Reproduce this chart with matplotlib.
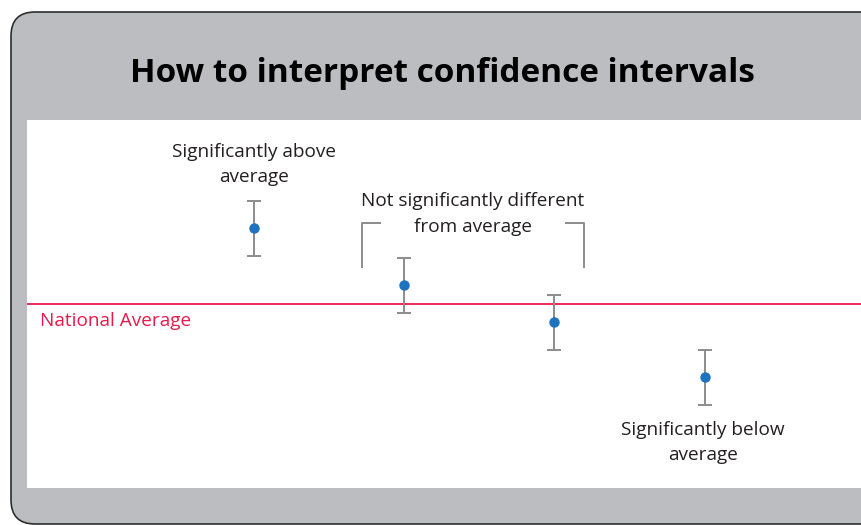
import matplotlib.pyplot as plt
from matplotlib.patches import FancyBboxPatch
from matplotlib.transforms import IdentityTransform

# data: estimates relative to the national average, with CI half width
positions = [1, 2, 3, 4]
estimates = [0.76, 0.19, -0.18, -0.73]
ci_half = [0.275, 0.275, 0.275, 0.275]
national_average = 0.0

title = 'How to interpret confidence intervals'
label_above = 'Significantly above\naverage'
label_middle = 'Not significantly different\nfrom average'
label_below = 'Significantly below\naverage'
label_avg = 'National Average'

plt.rcParams['font.family'] = ['Open Sans', 'DejaVu Sans']

W, H = 861, 525
fig = plt.figure(figsize=(W / 100, H / 100), dpi=100)
fig.patch.set_facecolor('white')

# grey rounded panel (pixel coords)
panel = FancyBboxPatch((11 + 24, 1 + 24), 900 - 48, 512 - 48,
                       boxstyle='round,pad=24', transform=IdentityTransform(),
                       facecolor='#bcbdc0', edgecolor='#2e2e2e', linewidth=1.2,
                       zorder=-1)
fig.patches.append(panel)

fig.text(442 / W, 1 - 74 / H, title, ha='center', va='center',
         fontsize=24, fontweight='bold', color='black')

ax = fig.add_axes([27 / W, (H - 488) / H, (W - 27) / W, 368 / H])
ax.set_zorder(2)
ax.set_facecolor('white')
ax.set_xlim(-0.51, 5.04)
ax.set_ylim(-1.84, 1.84)
for s in ax.spines.values():
    s.set_visible(False)
ax.set_xticks([])
ax.set_yticks([])

ax.axhline(national_average, color='#e8194b', linewidth=1.3, zorder=1)
ax.text(-0.424, -0.17, label_avg, color='#e8194b', fontsize=13.7,
        ha='left', va='center')

ax.errorbar(positions, estimates, yerr=ci_half, fmt='o', color='#1f72c0',
            markersize=6.5, ecolor='#8c8c8c', elinewidth=1.4, capsize=5,
            capthick=1.4, zorder=3)

# brackets around the "not significant" pair
ax.plot([1.72, 1.72, 1.84], [0.37, 0.81, 0.81], color='#8c8c8c', linewidth=1.4)
ax.plot([3.076, 3.196, 3.196], [0.81, 0.81, 0.37], color='#8c8c8c', linewidth=1.4)

ax.text(1.0, 1.395, label_above, ha='center', va='center', fontsize=13.7,
        linespacing=1.5, color='#231f20')
ax.text(2.457, 0.90, label_middle, ha='center', va='center', fontsize=13.7,
        linespacing=1.5, color='#231f20')
ax.text(3.987, -1.385, label_below, ha='center', va='center', fontsize=13.7,
        linespacing=1.5, color='#231f20')

fig.savefig('out.png', dpi=100)
